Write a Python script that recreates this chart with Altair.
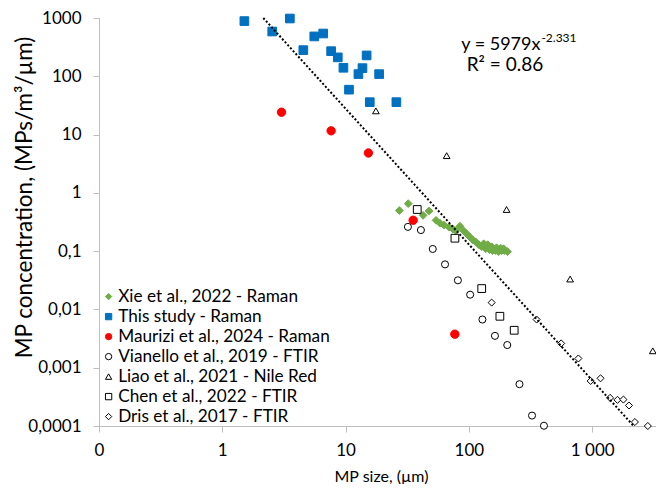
import altair as alt
import pandas as pd

# Series values (MP size in µm, concentration in MPs/m³/µm)

xie_size = [27.3, 32.2, 42.5, 47.5, 54.1, 58.3, 62.8, 68.9, 74.2, 78.4, 84.5,
            91.0, 96.2, 101.7, 107.5, 113.6, 120.2, 127.0, 131.8, 142.0, 136.8,
            147.3, 155.7, 164.7, 174.1, 184.1, 194.5, 205.7, 152.9, 167.7,
            180.7, 191.0]
xie_conc = [0.498, 0.653, 0.411, 0.489, 0.338, 0.301, 0.279, 0.258, 0.239,
            0.225, 0.268, 0.221, 0.197, 0.175, 0.156, 0.144, 0.129, 0.119,
            0.134, 0.129, 0.110, 0.106, 0.102, 0.102, 0.098, 0.102, 0.102,
            0.098, 0.119, 0.1145, 0.112, 0.110]

study_size = [1.51, 2.54, 3.53, 4.54, 5.57, 6.58, 7.63, 8.64, 9.60, 10.65,
              12.7, 13.7, 14.8, 15.7, 18.7, 25.8]
study_conc = [885, 586, 980, 281, 483, 542, 270, 211, 140, 58.9,
              109, 138, 228, 36, 109, 36]

maurizi_size = [3.02, 7.63, 15.3, 35.3, 76.9]
maurizi_conc = [24.2, 11.6, 4.83, 0.339, 0.00376]

vianello_size = [32.0, 40.8, 50.9, 64.0, 81.4, 102.3, 128.7, 162.6, 204.6,
                 257, 325, 406]
vianello_conc = [0.261, 0.230, 0.109, 0.0593, 0.0316, 0.0179, 0.00671,
                 0.00352, 0.00245, 0.000522, 0.000151, 0.000101]

liao_size = [17.6, 66, 202, 662, 3098]
liao_conc = [25.5, 4.35, 0.518, 0.0332, 0.00195]

chen_size = [38.1, 77.0, 127.0, 178.3, 232.9]
chen_conc = [0.518, 0.1667, 0.0228, 0.00763, 0.00439]

dris_size = [152.9, 354, 560, 772, 971, 1168, 1396, 1602, 1790, 1986, 2219, 2824]
dris_conc = [0.0131, 0.00671, 0.00261, 0.00144, 0.000593, 0.000658, 0.000304,
             0.000281, 0.000284, 0.000225, 0.000117, 0.0001]

series_names = [
  'Xie et al., 2022 - Raman',
  'This study - Raman',
  'Maurizi et al., 2024 - Raman',
  'Vianello et al., 2019 - FTIR',
  'Liao et al., 2021 - Nile Red',
  'Chen et al., 2022 - FTIR',
  'Dris et al., 2017 - FTIR',
]

# power trendline y = 5979x^-2.331, endpoints as drawn
trend_size = [2.15, 2170]
trend_conc = [1000, 0.0001]

x_ticks = [0.1, 1, 10, 100, 1000]
y_ticks = [0.0001, 0.001, 0.01, 0.1, 1, 10, 100, 1000]

# Styles

FONT = 'Lato'
SHAPES = ['diamond', 'square', 'circle', 'circle', 'triangle-up', 'square', 'diamond']
FILLS = ['#70AD47', '#0070C0', '#FF0000', 'white', 'white', 'white', 'white']
STROKES = ['#70AD47', '#0070C0', '#FF0000', 'black', 'black', 'black', 'black']
SIZES = [60, 75, 70, 50, 45, 60, 50]

# Data table

all_series = [
  (xie_size, xie_conc), (study_size, study_conc), (maurizi_size, maurizi_conc),
  (vianello_size, vianello_conc), (liao_size, liao_conc),
  (chen_size, chen_conc), (dris_size, dris_conc),
]
rows = []
for name, (sizes, concs) in zip(series_names, all_series):
  for s, c in zip(sizes, concs):
    rows.append({'series': name, 'size': s, 'conc': c})
points_df = pd.DataFrame(rows)
points_df['msize'] = points_df['series'].map(dict(zip(series_names, SIZES)))
trend_df = pd.DataFrame({'size': trend_size, 'conc': trend_conc})

x_scale = alt.Scale(type='log', domain=[0.1, 3290], nice=False)
y_scale = alt.Scale(type='log', domain=[0.0001, 1000], nice=False)

x_axis = alt.Axis(
  values=x_ticks, grid=False, title='MP size, (µm)',
  labelExpr="datum.value < 1 ? '0' : datum.value >= 1000 ? '1 000' : toString(datum.value)",
  titleX=282, titleY=55, titleBaseline='alphabetic', titleAlign='center',
  titleFontSize=16, labelPadding=10, labelFlush=False
)
y_axis = alt.Axis(
  values=y_ticks, grid=False, title='MP concentration, (MPs/m³/µm)',
  labelExpr="replace(toString(datum.value), '.', ',')",
  titleX=-75, titleY=179, titleAlign='center', titleBaseline='middle',
  titleFontSize=22.5, labelPadding=12
)

legend = alt.Legend(
  title=None, orient='bottom-left', offset=1,
  symbolSize=40, symbolStrokeWidth=1, labelFontSize=17.2, labelFont=FONT,
  labelColor='black', rowPadding=2, labelOffset=1, labelLimit=400
)
scale_kw = {'domain': series_names}

points = alt.Chart(points_df).mark_point(filled=True, opacity=1, strokeWidth=1).encode(
  x=alt.X('size:Q', scale=x_scale, axis=x_axis),
  y=alt.Y('conc:Q', scale=y_scale, axis=y_axis),
  shape=alt.Shape('series:N', scale=alt.Scale(range=SHAPES, **scale_kw), legend=legend),
  fill=alt.Fill('series:N', scale=alt.Scale(range=FILLS, **scale_kw), legend=legend),
  stroke=alt.Stroke('series:N', scale=alt.Scale(range=STROKES, **scale_kw), legend=legend),
  size=alt.Size('msize:Q', scale=None),
)

trend = alt.Chart(trend_df).mark_line(
  color='black', strokeDash=[2, 2], strokeWidth=2
).encode(
  x=alt.X('size:Q', scale=x_scale),
  y=alt.Y('conc:Q', scale=y_scale),
)

eq_df = pd.DataFrame({'size': [380], 'conc': [282], 'label': ['y = 5979x']})
sup_df = pd.DataFrame({'size': [380], 'conc': [282], 'label': ['-2.331']})
r2_df = pd.DataFrame({'size': [196], 'conc': [123], 'label': ['R² = 0.86']})

eq_text = alt.Chart(eq_df).mark_text(
  align='right', baseline='alphabetic', font=FONT, fontSize=18, color='black'
).encode(x=alt.X('size:Q', scale=x_scale), y=alt.Y('conc:Q', scale=y_scale), text='label:N')

sup_text = alt.Chart(sup_df).mark_text(
  align='left', baseline='alphabetic', font=FONT, fontSize=12, color='black', dx=1, dy=-8
).encode(x=alt.X('size:Q', scale=x_scale), y=alt.Y('conc:Q', scale=y_scale), text='label:N')

r2_text = alt.Chart(r2_df).mark_text(
  align='center', baseline='alphabetic', font=FONT, fontSize=19, color='black'
).encode(x=alt.X('size:Q', scale=x_scale), y=alt.Y('conc:Q', scale=y_scale), text='label:N')

chart = alt.layer(points, trend, eq_text, sup_text, r2_text).properties(
  width=557, height=408,
  autosize=alt.AutoSizeParams(type='none'),
  padding={'left': 91, 'top': 10, 'right': 0, 'bottom': 58},
).configure_view(
  stroke='transparent'
).configure_axis(
  domainColor='#BFBFBF', tickColor='#BFBFBF', tickSize=6,
  labelFont=FONT, labelFontSize=17, labelColor='black',
  titleFont=FONT, titleColor='black', titleFontWeight='normal'
)

chart.save('out.html', embed_options={'renderer': 'svg', 'actions': False})
